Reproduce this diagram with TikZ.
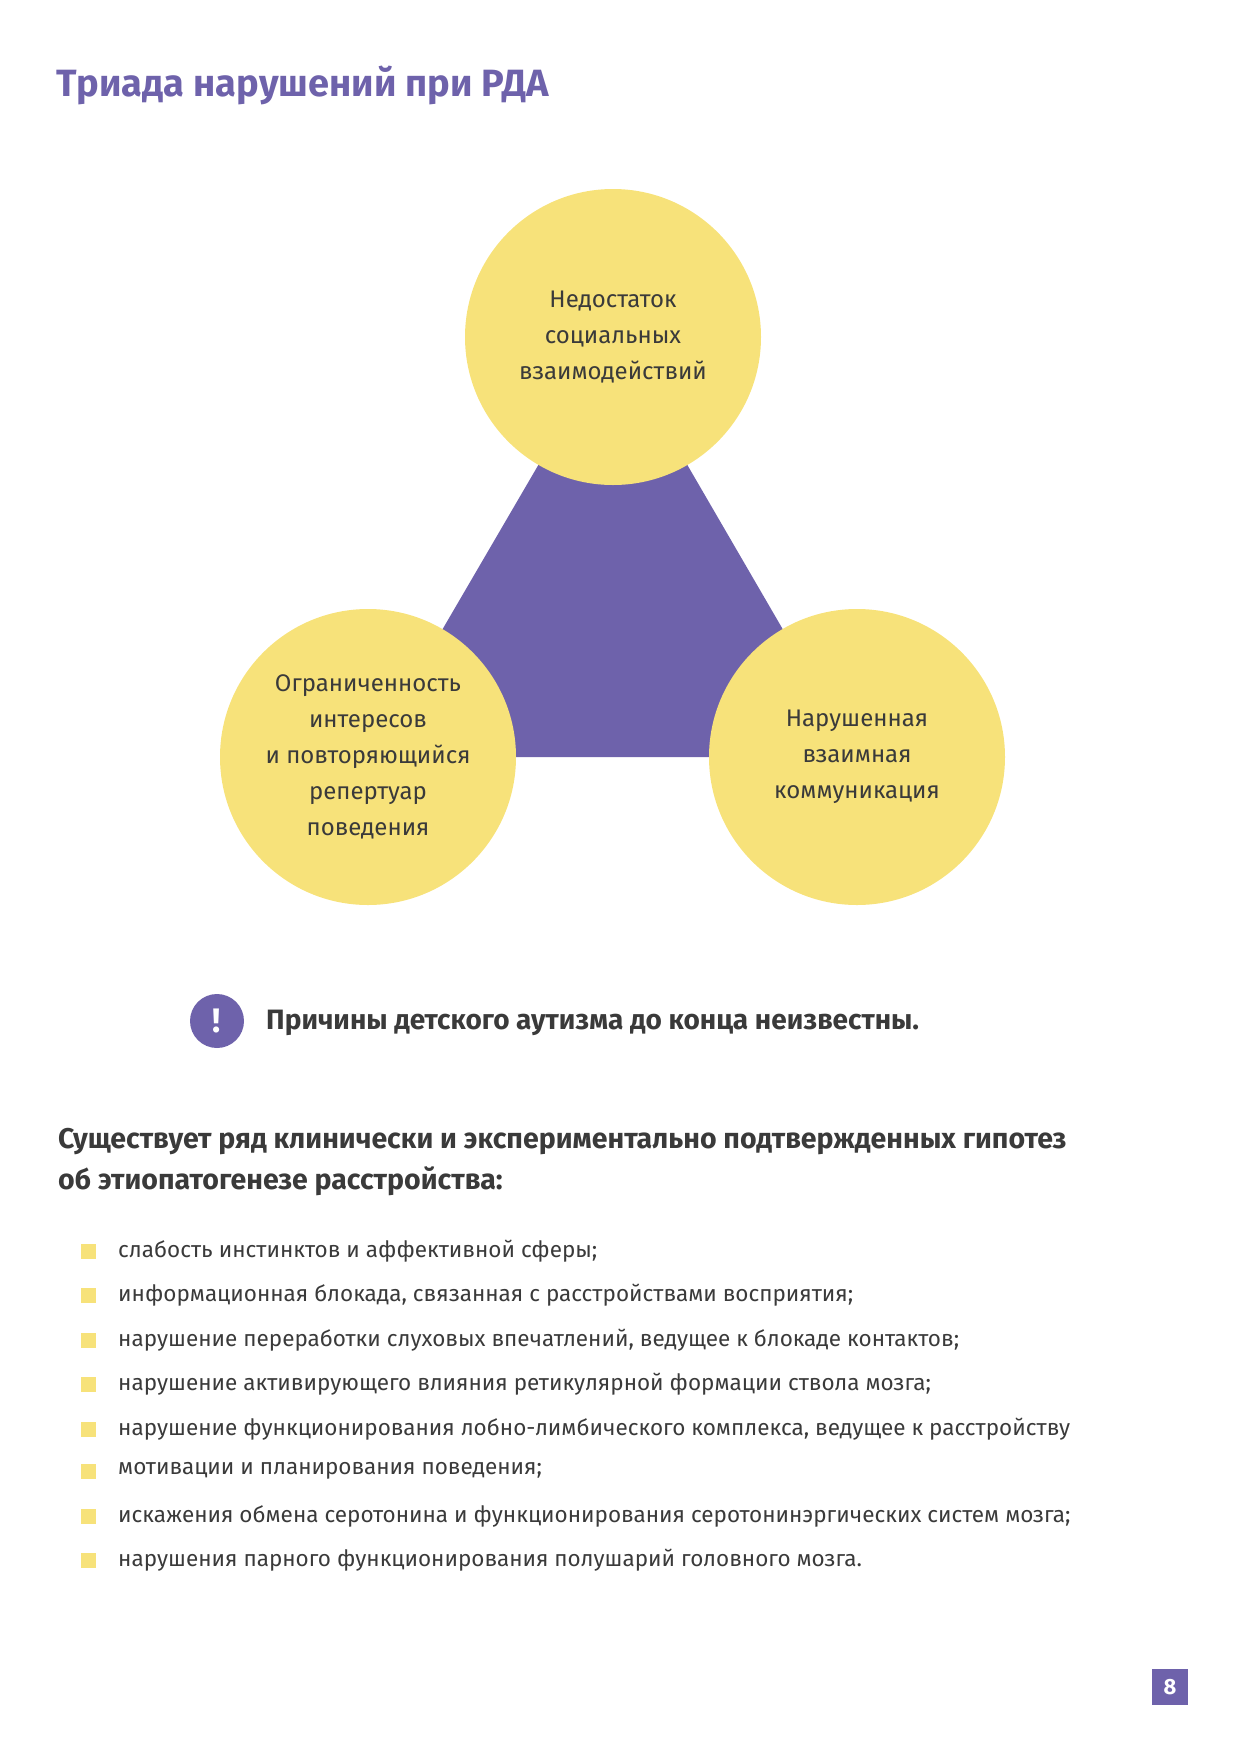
\documentclass[tikz,border=0pt]{standalone}
\usepackage{fontspec}
\setmainfont{Fira Sans}
\definecolor{pur}{HTML}{6E62AB}
\definecolor{yel}{HTML}{F7E27A}
\definecolor{txt}{HTML}{3A3A3A}
\begin{document}
\begin{tikzpicture}[x=1pt,y=-1pt,
  circ/.style={circle,fill=yel,minimum size=296pt,inner sep=0pt,align=center,text=txt,font=\fontsize{24}{36}\selectfont},
  bul/.style={anchor=west,text=txt,font=\fontsize{22.5}{27}\selectfont,inner sep=0pt},
  sq/.style={fill=yel,minimum size=15pt,inner sep=0pt}]
\useasboundingbox (0,0) rectangle (1240,1754);
\node[anchor=base west,inner sep=0pt,text=pur,font=\fontsize{38}{44}\selectfont\bfseries] (title) at (56,96) {Триада нарушений при РДА};
\coordinate (ct) at (613,337);
\coordinate (cl) at (368,757);
\coordinate (cr) at (857,757);
\fill[pur] (ct) -- (cl) -- (cr) -- cycle;
\node[circ] (top) at (ct) {Недостаток\\социальных\\взаимодействий};
\node[circ] (left) at (cl) {Ограниченность\\интересов\\и повторяющийся\\репертуар\\поведения};
\node[circ] (right) at (cr) {Нарушенная\\взаимная\\коммуникация};
\node[circle,fill=pur,minimum size=54pt,inner sep=0pt,text=white,font=\fontsize{34}{34}\selectfont\bfseries] (ex) at (217,1021) {!};
\node[anchor=west,inner sep=0pt,text=txt,font=\fontsize{28}{32}\selectfont\bfseries] (warn) at (266,1023) {Причины детского аутизма до конца неизвестны.};
\node[anchor=west,inner sep=0pt,text=txt,align=left,font=\fontsize{28.5}{41}\selectfont\bfseries] (head) at (58,1162) {Существует ряд клинически и экспериментально подтвержденных гипотез\\об этиопатогенезе расстройства:};
\foreach \y/\t [count=\i] in {1251/{слабость инстинктов и аффективной сферы;},
 1295/{информационная блокада, связанная с расстройствами восприятия;},
 1340/{нарушение переработки слуховых впечатлений, ведущее к блокаде контактов;},
 1384/{нарушение активирующего влияния ретикулярной формации ствола мозга;},
 1429/{нарушение функционирования лобно-лимбического комплекса, ведущее к расстройству},
 1471/{мотивации и планирования поведения;},
 1516/{искажения обмена серотонина и функционирования серотонинэргических систем мозга;},
 1560/{нарушения парного функционирования полушарий головного мозга.}}{
 \node[sq] (s\i) at (88,\y) {};
 \node[bul] (b\i) at (118,\y) {\t};
}
\node[fill=pur,minimum size=36pt,inner sep=0pt,text=white,font=\fontsize{22}{22}\selectfont\bfseries] (pg) at (1170,1687) {8};
\end{tikzpicture}
\end{document}
